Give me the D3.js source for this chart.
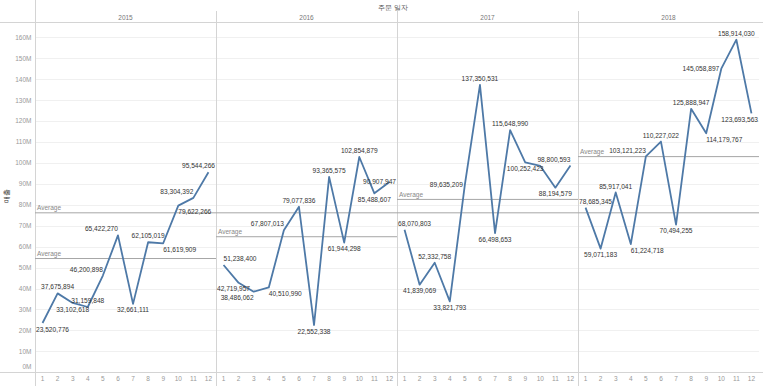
<!DOCTYPE html>
<html>
<head>
<meta charset="utf-8">
<script src="https://cdn.jsdelivr.net/npm/d3@7"></script>
<style>
  body { margin: 0; background: #fff; }
  svg text { font-family: "Liberation Sans", Arial, sans-serif; }
</style>
</head>
<body>
<div id="chart"></div>
<script>
(function(){
  // data (monthly sales per year)
  var years = ['2015', '2016', '2017', '2018'];
  var months = [1, 2, 3, 4, 5, 6, 7, 8, 9, 10, 11, 12];
  var sales2015 = [23520776, 37675894, 33102618, 31159848, 46200898, 65422270, 32661111, 62105019, 61619909, 79622266, 83304392, 95544266];
  var sales2016 = [51238400, 42719957, 38486062, 40510990, 67807013, 79077836, 22552338, 93365575, 61944298, 102854879, 85488607, 90907947];
  var sales2017 = [68070803, 41839069, 52332758, 33821793, 89635209, 137350531, 66498653, 115648990, 100252423, 98560000, 88194579, 98800593];
  var sales2018 = [78685345, 59071183, 85917041, 61224718, 103121223, 110227022, 70494255, 125888947, 114179767, 145058897, 158914030, 123693563];
  var yTicks = [0, 10e6, 20e6, 30e6, 40e6, 50e6, 60e6, 70e6, 80e6, 90e6, 100e6, 110e6, 120e6, 130e6, 140e6, 150e6, 160e6];

  // where each data label sits around its point (T top, B bottom, L/R side, '' hidden)
  var labelPos = [
    ['B','T','B','T','TL','TL','B','T','BR','BR','TL','T'],
    ['TR','BL','BL','BR','TL','T','B','T','B','T','B','R'],
    ['T','B','T','B','L','T','B','T','B','','B','TL'],
    ['T','B','T','BR','TL','T','B','T','BR','L','T','B']
  ];
  var allSales = [sales2015, sales2016, sales2017, sales2018];

  var W = 763, H = 386;
  var left = 35, right = 759, top = 23, axisY = 372.2;
  var paneW = (right - left) / years.length;
  var lineColor = '#4e79a7';

  var svg = d3.select('#chart').append('svg')
    .attr('width', W).attr('height', H);

  var y = d3.scaleLinear().domain([0, 166.9e6]).range([axisY, top]);
  var pane = d3.scaleBand().domain(years).range([left, right]);
  var x = d3.scaleBand().domain(months).range([0, paneW]);

  var fmt = d3.format(',');
  var overallAvg = d3.mean([].concat(sales2015, sales2016, sales2017, sales2018));

  // gridlines
  svg.append('g').selectAll('line').data(yTicks.slice(1)).enter().append('line')
    .attr('x1', left).attr('x2', right)
    .attr('y1', function(d){ return Math.round(y(d)) + 0.5; })
    .attr('y2', function(d){ return Math.round(y(d)) + 0.5; })
    .style('stroke', '#f0f0f0').style('stroke-width', 1);

  // frame lines
  var frame = svg.append('g').style('stroke', '#d4d4d4').style('stroke-width', 1);
  frame.append('line').attr('x1', 0).attr('x2', W).attr('y1', 22.5).attr('y2', 22.5);
  frame.append('line').attr('x1', 0).attr('x2', W).attr('y1', 372.5).attr('y2', 372.5);
  frame.append('line').attr('x1', left + 0.5).attr('x2', left + 0.5).attr('y1', 0).attr('y2', H);
  years.slice(1).forEach(function(yr){
    var px = Math.round(pane(yr)) + 0.5;
    frame.append('line').attr('x1', px).attr('x2', px).attr('y1', 11).attr('y2', H);
  });

  // header
  svg.append('text').attr('x', 393).attr('y', 9.5)
    .attr('text-anchor', 'middle').style('font-size', '6.5px').style('fill', '#555')
    .text('주문 일자');
  svg.selectAll('.yr').data(years).enter().append('text')
    .attr('x', function(d){ return pane(d) + paneW / 2; })
    .attr('y', 19.5).attr('text-anchor', 'middle')
    .style('font-size', '6.5px').style('fill', '#777')
    .text(function(d){ return d; });

  // y axis labels
  svg.append('g').selectAll('text').data(yTicks).enter().append('text')
    .attr('x', 31.5)
    .attr('y', function(d){ return Math.min(y(d), 367) + 2.3; })
    .attr('text-anchor', 'end')
    .style('font-size', '6.5px').style('fill', '#999')
    .text(function(d){ return (d / 1e6) + 'M'; });
  svg.append('text')
    .attr('transform', 'translate(9,196) rotate(-90)')
    .attr('text-anchor', 'middle')
    .style('font-size', '7px').style('fill', '#333')
    .text('매출');

  // one pane per year
  years.forEach(function(yr, i){
    var x0 = pane(yr);
    var data = allSales[i];
    var g = svg.append('g').attr('transform', 'translate(' + x0 + ',0)');
    var px = function(m){ return x(m) + x.bandwidth() / 2; };

    // x labels
    g.selectAll('.xl').data(months).enter().append('text')
      .attr('x', px).attr('y', 380.5).attr('text-anchor', 'middle')
      .style('font-size', '6.5px').style('fill', '#999')
      .text(function(d){ return d; });

    // reference lines
    var yearAvg = d3.mean(data);
    g.append('line').attr('x1', 0).attr('x2', paneW)
      .attr('y1', y(overallAvg)).attr('y2', y(overallAvg))
      .style('stroke', '#a6a6a6').style('stroke-width', 1);
    g.append('line').attr('x1', 0).attr('x2', paneW)
      .attr('y1', y(yearAvg)).attr('y2', y(yearAvg))
      .style('stroke', '#a6a6a6').style('stroke-width', 1);
    g.append('text').attr('x', 2).attr('y', y(yearAvg) - 2.5)
      .style('font-size', '6.5px').style('fill', '#888').text('Average');
    if (i == 0) {
      g.append('text').attr('x', 2).attr('y', y(overallAvg) - 2.5)
        .style('font-size', '6.5px').style('fill', '#888').text('Average');
    }

    // line
    var line = d3.line()
      .x(function(d, j){ return px(months[j]); })
      .y(function(d){ return y(d); });
    g.append('path').datum(data).attr('d', line)
      .style('fill', 'none').style('stroke', lineColor)
      .style('stroke-width', 1.8).style('stroke-linejoin', 'round');

    // data labels
    var fs = 6.6;
    data.forEach(function(v, j){
      var pos = labelPos[i][j];
      if (!pos) return;
      var cx = px(months[j]), cy = y(v);
      var t = g.append('text').style('font-size', fs + 'px').style('fill', '#333')
        .text(fmt(v));
      var w = t.node().getComputedTextLength();
      var lx, ly;
      if (pos[0] == 'T') ly = cy - 6.2;
      else if (pos[0] == 'B') ly = cy + 6.3;
      else ly = cy;
      if (pos == 'T' || pos == 'B') lx = cx - w / 2;
      else if (pos == 'TL' || pos == 'BL') lx = cx - w;
      else if (pos == 'TR' || pos == 'BR') lx = cx;
      else if (pos == 'L') lx = cx - w - 2;
      else lx = cx + 2;
      lx = Math.max(1, Math.min(paneW - 1 - w, lx));
      t.attr('x', lx).attr('y', ly + fs * 0.35);
    });
  });
})();
</script>
</body>
</html>
